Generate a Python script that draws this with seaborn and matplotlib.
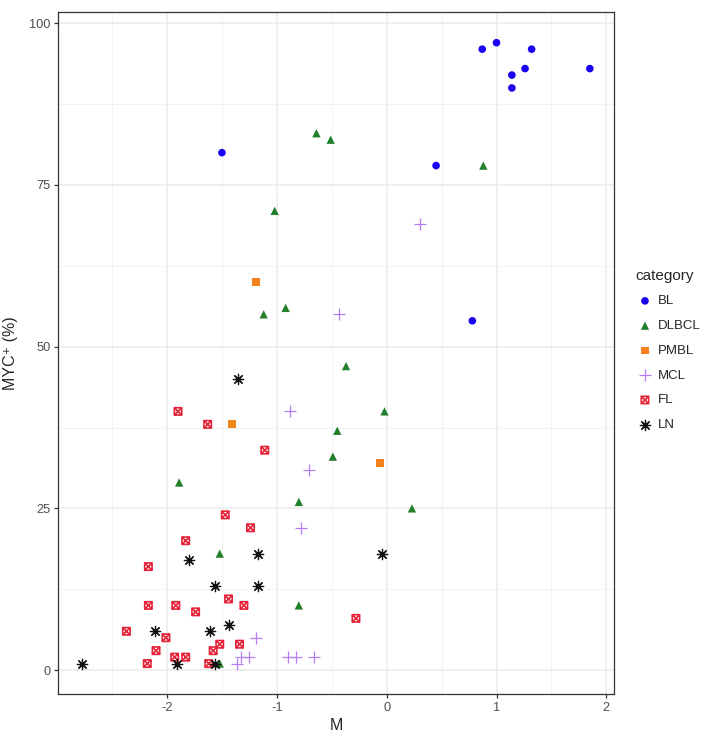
import numpy as np
import pandas as pd
import matplotlib
matplotlib.use("Agg")
import matplotlib.pyplot as plt
from matplotlib.path import Path
from matplotlib.markers import MarkerStyle
from matplotlib.ticker import MultipleLocator
import seaborn as sns

# ---- data ------------------------------------------------------------
categories = ["BL", "DLBCL", "PMBL", "MCL", "FL", "LN"]

bl_m = [0.87, 1.00, 1.32, 1.26, 1.85, 1.14, 1.14, 0.45, 0.78, -1.50]
bl_myc = [96, 97, 96, 93, 93, 92, 90, 78, 54, 80]

dlbcl_m = [-0.64, -0.51, -1.02, 0.88, -0.92, -1.12, -0.37, -0.02, -0.45,
           -0.49, -1.89, -0.80, 0.23, -1.52, -0.80, -1.52]
dlbcl_myc = [83, 82, 71, 78, 56, 55, 47, 40, 37, 33, 29, 26, 25, 18, 10, 1]

pmbl_m = [-1.19, -1.41, -0.06]
pmbl_myc = [60, 38, 32]

mcl_m = [0.30, -0.43, -0.88, -0.71, -0.78, -1.19, -1.33, -1.25, -0.90,
         -0.83, -0.66, -1.36]
mcl_myc = [69, 55, 40, 31, 22, 5, 2, 2, 2, 2, 2, 1]

fl_m = [-1.90, -1.63, -1.11, -1.47, -1.24, -1.83, -2.17, -1.44, -2.17,
        -1.92, -1.30, -1.74, -2.37, -2.01, -1.52, -1.34, -2.10, -1.58,
        -1.93, -1.83, -2.18, -1.62, -0.28]
fl_myc = [40, 38, 34, 24, 22, 20, 16, 11, 10, 10, 10, 9, 6, 5, 4, 4, 3, 3,
          2, 2, 1, 1, 8]

ln_m = [-1.35, -1.17, -1.80, -1.56, -1.17, -1.44, -2.11, -1.61, -2.77,
        -1.91, -1.56, -0.04]
ln_myc = [45, 18, 17, 13, 13, 7, 6, 6, 1, 1, 1, 18]

df = pd.concat([
    pd.DataFrame({"M": bl_m, "MYC": bl_myc, "category": "BL"}),
    pd.DataFrame({"M": dlbcl_m, "MYC": dlbcl_myc, "category": "DLBCL"}),
    pd.DataFrame({"M": pmbl_m, "MYC": pmbl_myc, "category": "PMBL"}),
    pd.DataFrame({"M": mcl_m, "MYC": mcl_myc, "category": "MCL"}),
    pd.DataFrame({"M": fl_m, "MYC": fl_myc, "category": "FL"}),
    pd.DataFrame({"M": ln_m, "MYC": ln_myc, "category": "LN"}),
], ignore_index=True)

# ---- styling ---------------------------------------------------------
sns.set_style("white")
plt.rcParams["font.family"] = ["Liberation Sans", "DejaVu Sans"]
plt.rcParams["axes.unicode_minus"] = False

# square with an X through it (ggplot shape 7)
sq_x = Path(
    [(-1, -1), (1, -1), (1, 1), (-1, 1), (-1, -1),
     (-1, -1), (1, 1), (-1, 1), (1, -1)],
    [Path.MOVETO, Path.LINETO, Path.LINETO, Path.LINETO, Path.CLOSEPOLY,
     Path.MOVETO, Path.LINETO, Path.MOVETO, Path.LINETO],
)

styles = {
    "BL":    dict(color="#1A00F2", marker="o", s=30, linewidth=0),
    "DLBCL": dict(color="#23802A", marker="^", s=36, linewidth=0),
    "PMBL":  dict(color="#F5821F", marker="s", s=32, linewidth=0),
    "MCL":   dict(color="#B67CF5", marker="+", s=64, linewidth=0.9),
    "FL":    dict(color="#E5243A", marker=MarkerStyle(sq_x, fillstyle="none"), s=28, linewidth=1.2),
    "LN":    dict(color="#111111", marker=(8, 2, 0), s=55, linewidth=0.9),
}

fig = plt.figure(figsize=(7.06, 7.32), dpi=100)
ax = fig.add_axes([0.0826, 0.0519, 0.8697 - 0.0826, 0.9832 - 0.0519])

for cat in categories:
    sub = df[df["category"] == cat]
    kw = dict(styles[cat])
    if cat in ("BL", "DLBCL", "PMBL"):
        kw["edgecolor"] = "none"
    sns.scatterplot(data=sub, x="M", y="MYC", ax=ax, label=cat, legend=False, zorder=3, **kw)

ax.set_xlim(-2.99, 2.07)
ax.set_ylim(-3.7, 101.7)
ax.xaxis.set_major_locator(MultipleLocator(1))
ax.xaxis.set_minor_locator(MultipleLocator(0.5))
ax.yaxis.set_major_locator(MultipleLocator(25))
ax.yaxis.set_minor_locator(MultipleLocator(12.5))
ax.grid(which="major", color="#EBEBEB", linewidth=1.1, zorder=0)
ax.grid(which="minor", color="#F2F2F2", linewidth=0.7, zorder=0)
ax.set_axisbelow(True)

for sp in ax.spines.values():
    sp.set_color("#333333")
    sp.set_linewidth(0.9)

ax.tick_params(axis="both", which="major", direction="out", length=3,
               width=0.9, color="#333333", labelsize=9.2, labelcolor="#4D4D4D",
               pad=2.5, left=True, bottom=True)
ax.tick_params(axis="both", which="minor", length=0)

ax.set_xlabel("M", fontsize=11.5)
ax.set_ylabel("MYC\u207a (%)", fontsize=11.5)
ax.xaxis.set_label_coords(0.5, -0.035)
ax.yaxis.set_label_coords(-0.0725, 0.5)

handles, labels = ax.get_legend_handles_labels()
leg = fig.legend(handles, labels, title="category", loc="center left",
                 bbox_to_anchor=(0.893, 0.522), frameon=False, fontsize=9.5,
                 title_fontsize=11, labelspacing=0.95, handletextpad=0.3,
                 handlelength=1.4, scatterpoints=1, borderaxespad=0)
leg._legend_box.align = "left"

fig.savefig("out.png", dpi=100)
